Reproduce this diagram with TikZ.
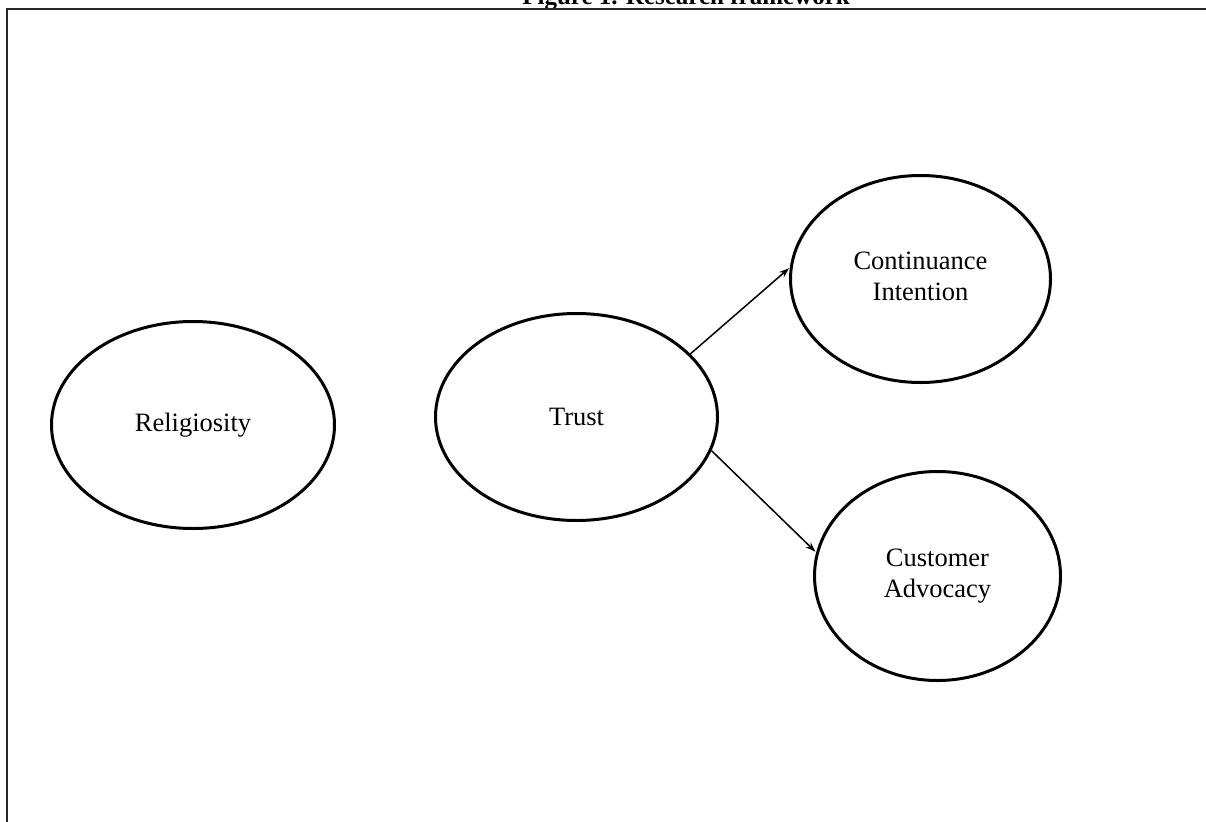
\documentclass[tikz,border=0pt]{standalone}
\usepackage{fontspec}
\setmainfont{Liberation Serif}
\usetikzlibrary{shapes.geometric,arrows.meta}
\tikzset{
  oval/.style={ellipse, draw=black, line width=3pt, inner sep=0pt, align=center,
    font=\fontsize{26.5}{31}\selectfont},
  link/.style={line width=1.5pt, -{Stealth[length=10pt,width=7pt]}, shorten >=1pt},
  frame/.style={line width=2.4pt, draw=black!85}
}
\begin{document}
\begin{tikzpicture}[x=1pt,y=-1pt]
\useasboundingbox (0,0) rectangle (1206,821);
\clip (0,0) rectangle (1206,821);
\fill[white] (0,0) rectangle (1206,821);
% title (mostly cut off at top)
\node[anchor=base, inner sep=0pt, font=\bfseries\fontsize{25}{30}\selectfont] (title) at (686,5) {Figure 1. Research framework};
% frame
\draw[frame] (7,830) -- (7,9) -- (1215,9);
% nodes
\node[oval, minimum width=283pt, minimum height=207pt] (rel) at (193,425) {Religiosity};
\node[oval, minimum width=282pt, minimum height=207pt] (trust) at (576.5,417) {Trust};
\node[oval, minimum width=260pt, minimum height=207pt] (ci) at (920.5,279) {\raisebox{8pt}{\begin{tabular}{@{}c@{}}Continuance\\Intention\end{tabular}}};
\node[oval, minimum width=246pt, minimum height=209pt] (ca) at (937.5,576) {\raisebox{8pt}{\begin{tabular}{@{}c@{}}Customer\\Advocacy\end{tabular}}};
% connectors
\draw[link] (trust.29.6) -- (ci.175.2);
\draw[link] (trust.-14.3) -- (ca.169.4);
\end{tikzpicture}
\end{document}
